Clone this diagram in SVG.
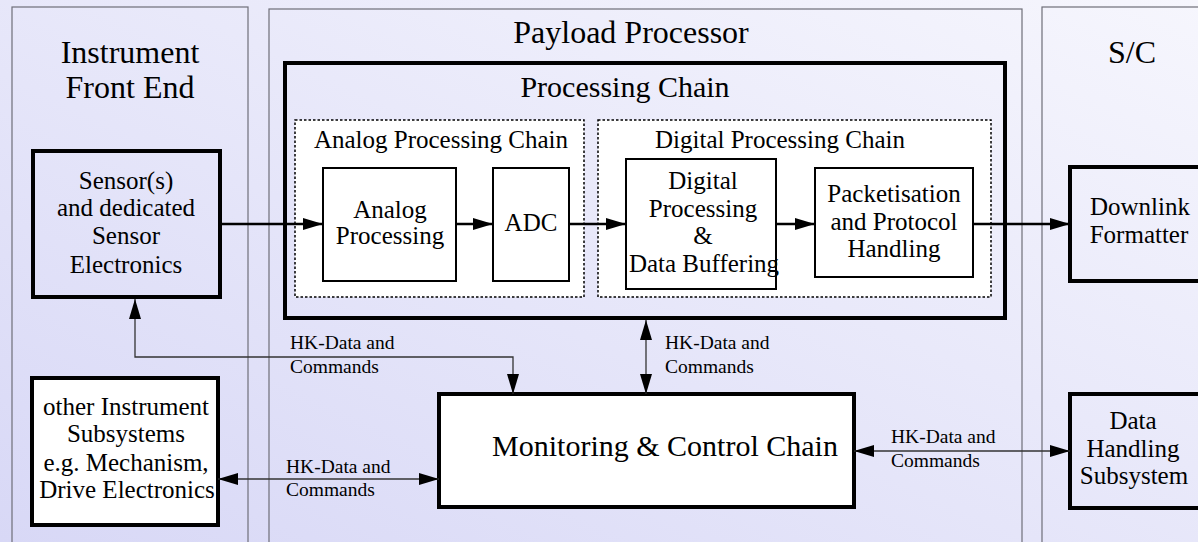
<svg xmlns="http://www.w3.org/2000/svg" width="1198" height="542" viewBox="0 0 1198 542">
<defs>
<linearGradient id="bg" x1="0" y1="1" x2="1" y2="0">
<stop offset="0" stop-color="#d8d8f6"/>
<stop offset="1" stop-color="#f6f6fd"/>
</linearGradient>
<marker id="ah" viewBox="0 0 20 12" markerWidth="20" markerHeight="12" refX="20" refY="6" orient="auto-start-reverse" markerUnits="userSpaceOnUse">
<path d="M0,0 L20,6 L0,12 z" fill="#000"/>
</marker>
<style>
text{font-family:"Liberation Serif","Times New Roman",serif;fill:#000;text-anchor:middle}
.t32{font-size:32px}
.t30{font-size:30px}
.t25{font-size:25px}
.lbl{font-size:19.5px;text-anchor:start}
.panel{fill:none;stroke:#6e6e78;stroke-width:1.2}
.thick{fill:none;stroke:#000;stroke-width:4}
.thickw{fill:#fff;stroke:#000;stroke-width:4}
.inner{fill:#fff;stroke:#000;stroke-width:2}
.dash{fill:#fff;stroke:#000;stroke-width:1.5;stroke-dasharray:2.5 2}
.sig{fill:none;stroke:#000;stroke-width:2.5}
.hk{fill:none;stroke:#333;stroke-width:1.3}
</style>
</defs>
<rect x="0" y="0" width="1198" height="542" fill="url(#bg)"/>

<g id="panel-instrument">
<rect class="panel" x="12" y="7" width="236" height="545"/>
<text class="t32" x="130" y="63">Instrument</text>
<text class="t32" x="130" y="98">Front End</text>
</g>
<g id="panel-payload">
<rect class="panel" x="269" y="9" width="753" height="545"/>
<text class="t32" x="631" y="43">Payload Processor</text>
</g>
<g id="panel-sc">
<rect class="panel" x="1042" y="7" width="170" height="545"/>
<text class="t32" x="1132" y="63">S/C</text>
</g>

<g id="processing-chain">
<rect class="thick" x="285" y="63" width="720" height="255"/>
<text class="t30" x="625" y="97">Processing Chain</text>
</g>
<g id="analog-chain">
<rect class="dash" x="295" y="120" width="289" height="177"/>
<text class="t25" x="441" y="148">Analog Processing Chain</text>
</g>
<g id="digital-chain">
<rect class="dash" x="598" y="120" width="393" height="177"/>
<text class="t25" x="780" y="148">Digital Processing Chain</text>
</g>

<g id="sensor">
<rect class="thick" x="33" y="151" width="187" height="146"/>
<text class="t25" x="126" y="189">Sensor(s)</text>
<text class="t25" x="126" y="216">and dedicated</text>
<text class="t25" x="126" y="244">Sensor</text>
<text class="t25" x="126" y="273">Electronics</text>
</g>
<g id="analog-processing">
<rect class="inner" x="323" y="168" width="133" height="113"/>
<text class="t25" x="390" y="218">Analog</text>
<text class="t25" x="390" y="244">Processing</text>
</g>
<g id="adc">
<rect class="inner" x="493" y="168" width="76" height="113"/>
<text class="t25" x="531" y="231">ADC</text>
</g>
<g id="digital-processing">
<rect class="inner" x="626" y="159" width="150" height="130"/>
<text class="t25" x="703" y="189">Digital</text>
<text class="t25" x="703" y="217">Processing</text>
<text class="t25" x="703" y="244">&amp;</text>
<text class="t25" x="704" y="272">Data Buffering</text>
</g>
<g id="packetisation">
<rect class="inner" x="815" y="168" width="158" height="109"/>
<text class="t25" x="894" y="202">Packetisation</text>
<text class="t25" x="894" y="230">and Protocol</text>
<text class="t25" x="894" y="257">Handling</text>
</g>
<g id="downlink">
<rect class="thick" x="1070" y="167" width="150" height="114"/>
<text class="t25" x="1140" y="215">Downlink</text>
<text class="t25" x="1139" y="243">Formatter</text>
</g>
<g id="other-subsystems">
<rect class="thickw" x="32" y="378" width="186" height="147"/>
<text class="t25" x="126" y="415">other Instrument</text>
<text class="t25" x="126" y="442">Subsystems</text>
<text class="t25" x="126" y="471">e.g. Mechanism,</text>
<text class="t25" x="127" y="498">Drive Electronics</text>
</g>
<g id="monitoring">
<rect class="thickw" x="439" y="394" width="415" height="113"/>
<text class="t30" x="665" y="456">Monitoring &amp; Control Chain</text>
</g>
<g id="data-handling">
<rect class="thick" x="1070" y="394" width="150" height="114"/>
<text class="t25" x="1133" y="429">Data</text>
<text class="t25" x="1133" y="457">Handling</text>
<text class="t25" x="1134" y="484">Subsystem</text>
</g>

<g id="connectors">
<line class="sig" x1="220" y1="224" x2="323" y2="224" marker-end="url(#ah)"/>
<line class="sig" x1="456" y1="224" x2="493" y2="224" marker-end="url(#ah)"/>
<line class="sig" x1="569" y1="224" x2="626" y2="224" marker-end="url(#ah)"/>
<line class="sig" x1="776" y1="224" x2="815" y2="224" marker-end="url(#ah)"/>
<line class="sig" x1="973" y1="224" x2="1070" y2="224" marker-end="url(#ah)"/>
<polyline class="hk" points="135,299 135,357 513,357 513,394" marker-start="url(#ah)" marker-end="url(#ah)"/>
<line class="hk" x1="646" y1="320" x2="646" y2="394" marker-start="url(#ah)" marker-end="url(#ah)"/>
<line class="hk" x1="218" y1="479" x2="439" y2="479" marker-start="url(#ah)" marker-end="url(#ah)"/>
<line class="hk" x1="854" y1="451" x2="1070" y2="451" marker-start="url(#ah)" marker-end="url(#ah)"/>
<text class="lbl" x="290" y="349">HK-Data and</text>
<text class="lbl" x="290" y="373">Commands</text>
<text class="lbl" x="665" y="349">HK-Data and</text>
<text class="lbl" x="665" y="373">Commands</text>
<text class="lbl" x="286" y="473">HK-Data and</text>
<text class="lbl" x="286" y="496">Commands</text>
<text class="lbl" x="891" y="443">HK-Data and</text>
<text class="lbl" x="891" y="467">Commands</text>
</g>
</svg>
